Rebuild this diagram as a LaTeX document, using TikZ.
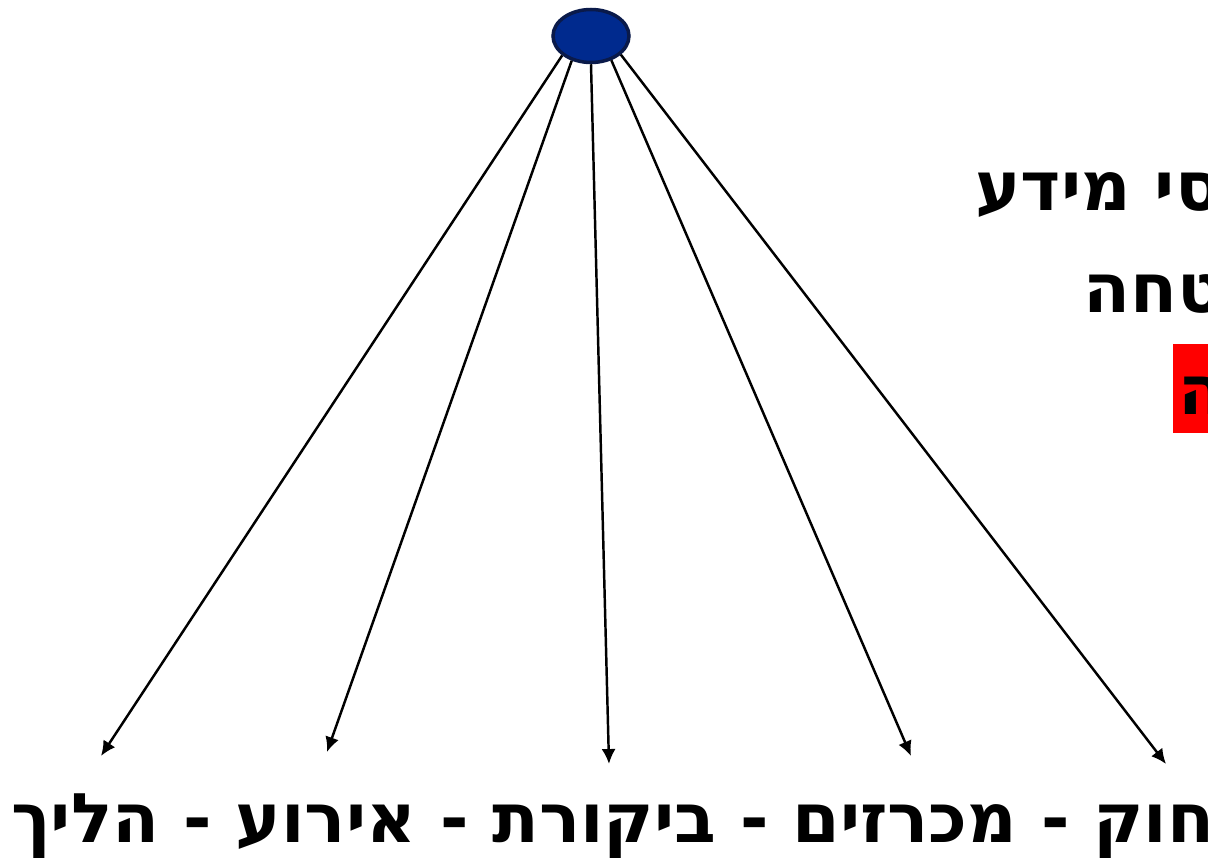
\documentclass[tikz,border=0pt]{standalone}
\usepackage{fontspec}
\usetikzlibrary{arrows.meta,shapes.geometric}
\newfontfamily\hebfont[Script=Hebrew]{DejaVu Sans}
\TeXXeTstate=1
\definecolor{dotblue}{HTML}{002A8E}
\definecolor{dotrim}{HTML}{0A1A4A}

\begin{document}
\begin{tikzpicture}[
  x=0.02cm, y=-0.02cm,
  dot/.style={ellipse,draw=dotrim,fill=dotblue,line width=2pt,minimum width=1.52cm,minimum height=1.06cm,inner sep=0pt},
  arr/.style={draw=black,line width=1.4pt,-{Latex[length=8.5pt,width=8pt]}},
  heb/.style={font=\hebfont\bfseries\fontsize{39}{44}\selectfont,inner sep=0pt,anchor=base west},
  hilite/.style={fill=red,draw=none},
]
\useasboundingbox (0,0) rectangle (1208,858);
\clip (0,0) rectangle (1208,858);

% hub
\node[dot] (hub) at (591,36) {};

% arrow ends
\coordinate (t1) at (101,756);
\coordinate (t2) at (327,752);
\coordinate (t3) at (609,764);
\coordinate (t4) at (911,756);
\coordinate (t5) at (1166,764);

\foreach \a/\t in {214/t1,232/t2,270/t3,310/t4,328/t5}
  \draw[arr] (hub.\a) -- (\t);

% right side text
\node[heb] (asset) at (975,211) {\beginR סי מידע\endR};
\node[heb] (secure) at (1083,313) {\beginR טחה\endR};
\fill[hilite] (1173,344) rectangle (1210,433);
\node[heb] (mark) at (1178,415) {\beginR ה\endR};

% bottom line
\node[heb] (topics) at (11,842) {\beginR חוק - מכרזים - ביקורת - אירוע - הליך\endR};
\end{tikzpicture}
\end{document}
